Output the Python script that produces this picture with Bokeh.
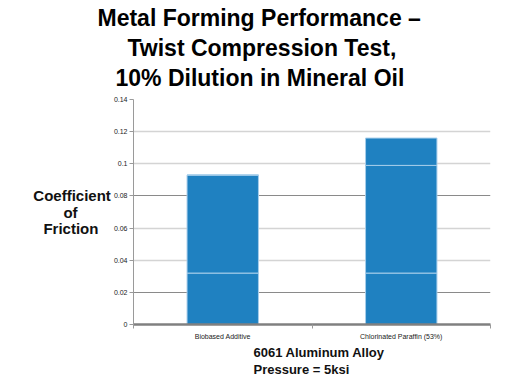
from bokeh.plotting import figure
from bokeh.models import FixedTicker, Grid, Title, Range1d, ColumnDataSource
from bokeh.embed import file_html
from bokeh.resources import INLINE

categories = ["Biobased Additive", "Chlorinated Paraffin (53%)"]
seg_low = [0.032, 0.032]
seg_mid = [0.061, 0.067]
seg_top = [0.0, 0.017]
y_ticks = [0, 0.02, 0.04, 0.06, 0.08, 0.1, 0.12, 0.14]
y_tick_labels = ["0", "0.02", "0.04", "0.06", "0.08", "0.1", "0.12", "0.14"]
title_lines = ["Metal Forming Performance \u2013", "Twist Compression Test,", "10% Dilution in Mineral Oil"]
y_label_lines = ["Coefficient", "of", "Friction"]
note_lines = ["6061 Aluminum Alloy", "Pressure = 5ksi"]

FONT = "Liberation Sans"
NBSP = "\u00a0"
xpos = [i + 0.5 for i in range(len(categories))]

p = figure(width=504, height=376, output_backend="svg", toolbar_location=None,
           x_range=Range1d(0, len(categories)), y_range=Range1d(0, 0.14),
           min_border_left=133, min_border_right=14, min_border_top=99, min_border_bottom=40)
p.outline_line_color = None
p.background_fill_color = "white"
p.border_fill_color = "white"

# grids
p.xgrid.visible = False
p.ygrid.visible = False
dark = [0.02, 0.08, 0.14]
light = [0.04, 0.06, 0.1, 0.12]
p.add_layout(Grid(dimension=1, ticker=FixedTicker(ticks=light), grid_line_color="#d4d4d4", grid_line_width=1.5))
p.add_layout(Grid(dimension=1, ticker=FixedTicker(ticks=dark), grid_line_color="#8a8a8a", grid_line_width=1.2))

src = ColumnDataSource(dict(x=xpos, low=seg_low, mid=seg_mid, top=seg_top))
p.vbar_stack(["low", "mid", "top"], x="x", width=0.4, source=src,
             color=["#1f81c1"] * 3, line_color="#a6cdea", line_width=1)

# y axis
p.yaxis.ticker = FixedTicker(ticks=y_ticks)
p.yaxis.major_label_overrides = {t: l for t, l in zip(y_ticks, y_tick_labels)}
p.yaxis.major_label_text_font = FONT
p.yaxis.major_label_text_font_size = "7px"
p.yaxis.major_label_text_color = "#222222"
p.yaxis.axis_line_color = "#9a9a9a"
p.yaxis.major_tick_line_color = "#9a9a9a"
p.yaxis.major_tick_out = 4
p.yaxis.major_tick_in = 0
p.yaxis.minor_tick_line_color = None
p.yaxis.major_label_standoff = 2
# lines are right-aligned by the axis; pad shorter lines so that they sit centred
pads = [0, 8, 3]
p.yaxis.axis_label = "\n".join(l + NBSP * n for l, n in zip(y_label_lines, pads))
p.yaxis.axis_label_orientation = "horizontal"
p.yaxis.axis_label_text_font = FONT
p.yaxis.axis_label_text_font_size = "15px"
p.yaxis.axis_label_text_font_style = "bold"
p.yaxis.axis_label_text_color = "#111111"
p.yaxis.axis_label_text_line_height = 0.95
p.yaxis.axis_label_standoff = 0

# x axis
p.xaxis.ticker = FixedTicker(ticks=xpos, minor_ticks=list(range(len(categories) + 1)))
p.xaxis.major_label_overrides = {x: c for x, c in zip(xpos, categories)}
p.xaxis.major_label_text_font = FONT
p.xaxis.major_label_text_font_size = "7px"
p.xaxis.major_label_text_color = "#222222"
p.xaxis.axis_line_color = "#808080"
p.xaxis.axis_line_width = 2.5
p.xaxis.major_tick_line_color = None
p.xaxis.minor_tick_line_color = "#9a9a9a"
p.xaxis.minor_tick_out = 4
p.xaxis.minor_tick_in = 0
p.xaxis.major_label_standoff = 2

# title: three lines, closest-to-plot added first, shifted to page centre
title_offsets = [-36, -6, -18]
title_pads = [0, 0, 8]
for line, off, pb in reversed(list(zip(title_lines, title_offsets, title_pads))):
    p.add_layout(Title(text=line, align="left", offset=off, text_font=FONT, text_font_size="23px",
                       text_font_style="bold", text_color="black", standoff=2,
                       padding=dict(left=0, right=0, top=0, bottom=pb)), "above")

# bottom note
for line in note_lines:
    p.add_layout(Title(text=line, align="left", offset=120, text_font=FONT, text_font_size="13px",
                       text_font_style="bold", text_color="#111111", standoff=0,
                       text_line_height=1.0), "below")

open("out.html", "w").write(file_html(p, INLINE))
